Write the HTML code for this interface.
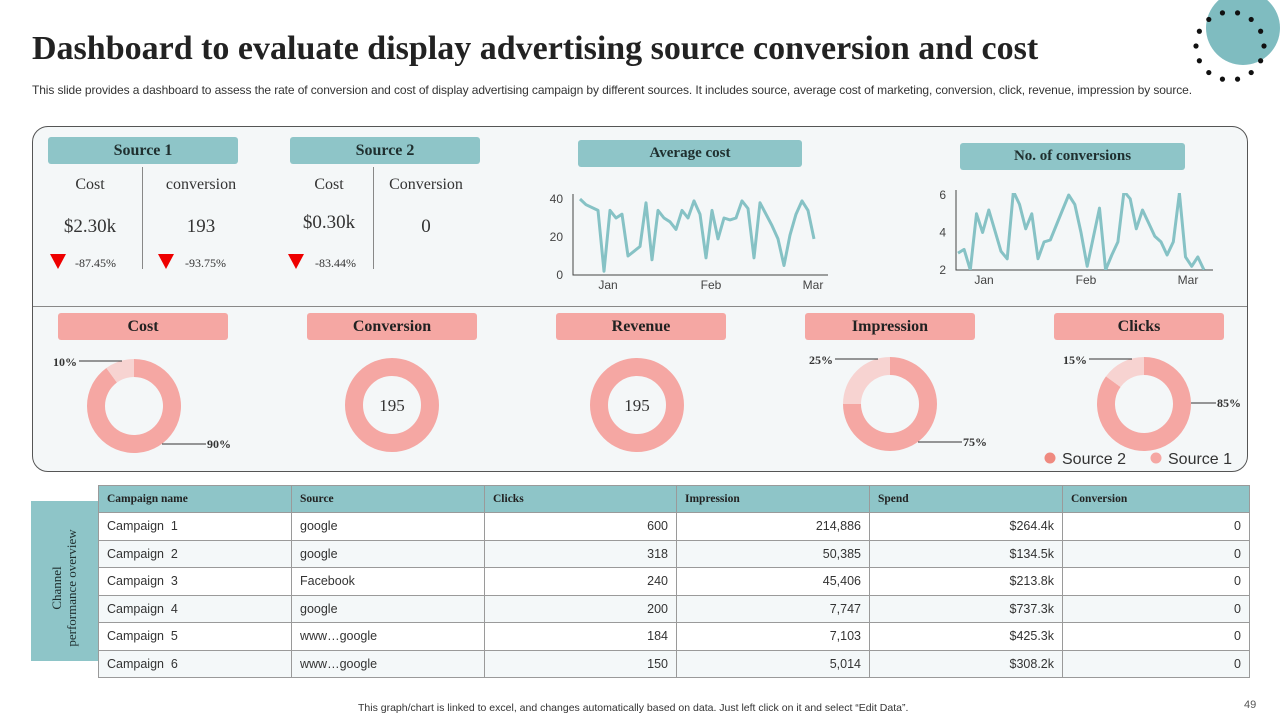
<!DOCTYPE html>
<html><head><meta charset="utf-8"><style>
body{margin:0;width:1280px;height:720px;background:#fff;position:relative;overflow:hidden;font-family:"Liberation Sans",sans-serif;}
.abs{position:absolute}
.serif{font-family:"Liberation Serif",serif}
.tb{position:absolute;background:#8ec5c8;border-radius:3px;text-align:center;font-family:"Liberation Serif",serif;font-weight:bold;font-size:16px;color:#1f2f2f}
.pk{position:absolute;background:#f5a7a3;border-radius:3px;text-align:center;font-family:"Liberation Serif",serif;font-weight:bold;font-size:16px;color:#222;width:170px;height:27px;line-height:27px;top:313px}
table{position:absolute;left:98px;top:485px;border-collapse:collapse;width:1152px;font-size:12.5px;color:#333}
td,th{border:1.5px solid #9a9a9a;height:26.5px;padding:0 8px;}
th{background:#8ec5c8;font-family:"Liberation Serif",serif;font-size:11.5px;text-align:left;color:#222;height:26px}
td.n{text-align:right}
tr.o td{background:#f4f8f9}
</style></head><body>
<svg class="abs" style="left:0;top:0" width="1280" height="100">
<circle cx="1243" cy="28" r="37" fill="#7fbcc0"/>
<g fill="#111" id="dots"></g>
</svg>
<div class="abs serif" style="left:32px;top:30px;font-size:34px;font-weight:bold;color:#222;white-space:nowrap">Dashboard to evaluate display advertising source conversion and cost</div>
<div class="abs" style="left:32px;top:83px;font-size:12px;color:#333;white-space:nowrap;letter-spacing:-0.1px">This slide provides a dashboard to assess the rate of conversion and cost of display advertising campaign by different sources. It includes source, average cost of marketing, conversion, click, revenue, impression by source.</div>
<div class="abs" style="left:32px;top:126px;width:1214px;height:344px;border:1.3px solid #555;border-radius:16px;background:#f4f7f8"></div>
<div class="abs" style="left:33px;top:306px;width:1214px;height:1px;background:#888"></div>

<div class="tb" style="left:48px;top:137px;width:190px;height:27px;line-height:27px">Source 1</div>
<div class="tb" style="left:290px;top:137px;width:190px;height:27px;line-height:27px">Source 2</div>
<div class="abs" style="left:142px;top:167px;width:1px;height:102px;background:#888"></div>
<div class="abs" style="left:373px;top:167px;width:1px;height:102px;background:#888"></div>
<div class="abs serif" style="left:60px;top:176px;width:60px;text-align:center;font-size:16px;color:#333">Cost</div>
<div class="abs serif" style="left:150px;top:176px;width:102px;text-align:center;font-size:16px;color:#333">conversion</div>
<div class="abs serif" style="left:299px;top:176px;width:60px;text-align:center;font-size:16px;color:#333">Cost</div>
<div class="abs serif" style="left:373px;top:176px;width:106px;text-align:center;font-size:16px;color:#333">Conversion</div>
<div class="abs serif" style="left:50px;top:216px;width:80px;text-align:center;font-size:19px;color:#333">$2.30k</div>
<div class="abs serif" style="left:170px;top:216px;width:62px;text-align:center;font-size:19px;color:#333">193</div>
<div class="abs serif" style="left:289px;top:212px;width:80px;text-align:center;font-size:19px;color:#333">$0.30k</div>
<div class="abs serif" style="left:400px;top:216px;width:52px;text-align:center;font-size:19px;color:#333">0</div>
<svg class="abs" style="left:0;top:250px" width="400" height="24">
<polygon points="50,4 66,4 58,19" fill="#e00"/><polygon points="158,4 174,4 166,19" fill="#e00"/><polygon points="288,4 304,4 296,19" fill="#e00"/>
</svg>
<div class="abs serif" style="left:75px;top:256px;font-size:12px;color:#333">-87.45%</div>
<div class="abs serif" style="left:185px;top:256px;font-size:12px;color:#333">-93.75%</div>
<div class="abs serif" style="left:315px;top:256px;font-size:12px;color:#333">-83.44%</div>

<div class="tb" style="left:578px;top:140px;width:224px;height:27px;line-height:27px;font-size:15px">Average cost</div>
<div class="tb" style="left:960px;top:143px;width:225px;height:27px;line-height:27px;font-size:15px">No. of conversions</div>
<svg id="lc" class="abs" style="left:0;top:0" width="1280" height="310"></svg>

<div class="pk" style="left:58px">Cost</div>
<div class="pk" style="left:307px">Conversion</div>
<div class="pk" style="left:556px">Revenue</div>
<div class="pk" style="left:805px">Impression</div>
<div class="pk" style="left:1054px">Clicks</div>
<svg id="dn" class="abs" style="left:0;top:0" width="1280" height="480"></svg>
<svg class="abs" style="left:1040px;top:448px" width="200" height="20">
<circle cx="10" cy="10" r="5.5" fill="#ef8a80"/><text x="22" y="16" font-size="16" fill="#333" font-family="Liberation Sans">Source 2</text>
<circle cx="116" cy="10" r="5.5" fill="#f5a7a3"/><text x="128" y="16" font-size="16" fill="#333" font-family="Liberation Sans">Source 1</text>
</svg>

<div class="abs" style="left:31px;top:501px;width:67px;height:160px;background:#8ec5c8"></div>
<div class="abs serif" style="left:-16px;top:573px;width:160px;text-align:center;transform:rotate(-90deg);font-size:13px;color:#1f2f2f;line-height:15px">Channel<br>performance overview</div>
<table>
<tr><th style="width:176px">Campaign name</th><th style="width:176px">Source</th><th style="width:175px">Clicks</th><th style="width:176px">Impression</th><th style="width:176px">Spend</th><th>Conversion</th></tr>
<tr><td>Campaign&nbsp; 1</td><td>google</td><td class="n">600</td><td class="n">214,886</td><td class="n">$264.4k</td><td class="n">0</td></tr>
<tr class="o"><td>Campaign&nbsp; 2</td><td>google</td><td class="n">318</td><td class="n">50,385</td><td class="n">$134.5k</td><td class="n">0</td></tr>
<tr><td>Campaign&nbsp; 3</td><td>Facebook</td><td class="n">240</td><td class="n">45,406</td><td class="n">$213.8k</td><td class="n">0</td></tr>
<tr class="o"><td>Campaign&nbsp; 4</td><td>google</td><td class="n">200</td><td class="n">7,747</td><td class="n">$737.3k</td><td class="n">0</td></tr>
<tr><td>Campaign&nbsp; 5</td><td>www…google</td><td class="n">184</td><td class="n">7,103</td><td class="n">$425.3k</td><td class="n">0</td></tr>
<tr class="o"><td>Campaign&nbsp; 6</td><td>www…google</td><td class="n">150</td><td class="n">5,014</td><td class="n">$308.2k</td><td class="n">0</td></tr>
</table>
<div class="abs" style="left:358px;top:702px;font-size:10.5px;color:#333;white-space:nowrap">This graph/chart is linked to excel, and changes automatically based on data. Just left click on it and select “Edit Data”.</div>
<div class="abs" style="left:1244px;top:699px;font-size:11px;color:#555">49</div>
<script>
const avgDays=[0,1,3,4,5,6,7,8,10,11,12,13,14,15,16,17,18,19,20,21,22,23,24,25,26,27,28,29,30,32,33,34,35,36,37,38,39];
const avgCost=[40,37,34,2,34,30,32,10,15,38,8,34,30,28,24,34,30,39,32,9,34,19,30,29,30,39,35,9,38,26,19,5,21,32,39,34,19];
const avgTicks=[0,20,40];
const convDays=[0,1,2,3,4,5,7,8,9,10,11,12,13,14,15,16,17,18,19,20,21,23,24,25,26,27,28,29,30,31,32,33,34,35,36,37,38,39,40];
const conversions=[2.9,3.1,2,5,4,5.2,3,2.6,6.2,5.5,4.2,5,2.6,3.5,3.6,4.4,5.2,6,5.5,4,2.2,5.3,2,2.8,3.5,6.2,5.8,4.2,5.2,4.5,3.8,3.5,2.8,3.5,6.1,2.7,2.2,2.7,2];
const convTicks=[2,4,6];
const monthLabels=["Jan","Feb","Mar"];
const NS="http://www.w3.org/2000/svg";
function mk(p,t,a){const e=document.createElementNS(NS,t);for(const k in a)e.setAttribute(k,a[k]);p.appendChild(e);return e;}
const lc=document.getElementById('lc');
function lineChart(o){
  const xs=d=>o.x0+(d-o.d0)*(o.x1-o.x0)/(o.d1-o.d0);
  const ys=v=>o.yb-(v-o.vmin)*(o.yb-o.yt)/(o.vmax-o.vmin);
  const ax=mk(lc,'path',{d:`M${o.ax} ${o.yt-5}V${o.yb}H${o.axEnd}`,stroke:'#444',fill:'none','stroke-width':1});
  
  o.ticks.forEach(t=>{const e=mk(lc,'text',{x:o.ax-10,y:ys(t)+4,'text-anchor':'end','font-size':12,fill:'#444'});e.textContent=t;
    });
  o.months.forEach((m,i)=>{const e=mk(lc,'text',{x:o.mx[i],y:o.yb+14,'text-anchor':'middle','font-size':12,fill:'#444'});e.textContent=m;
    });
  const clip=mk(lc,'clipPath',{id:o.id});mk(clip,'rect',{x:o.ax,y:o.yt-2,width:o.axEnd-o.ax,height:o.yb-o.yt+2});
  const p=mk(lc,'path',{d:o.vals.map((v,i)=>(i?'L':'M')+xs(o.days[i]).toFixed(1)+' '+ys(v).toFixed(1)).join(''),fill:'none',stroke:'#86c2c5','stroke-width':3,'stroke-linejoin':'round','clip-path':`url(#${o.id})`});
  
}
lineChart({id:'c1',days:avgDays,vals:avgCost,d0:0,d1:39,x0:580,x1:814,vmin:0,vmax:40,yb:275,yt:199,ax:573,axEnd:828,ticks:avgTicks,months:monthLabels,mx:[608,711,813]});
lineChart({id:'c2',days:convDays,vals:conversions,d0:0,d1:40,x0:958,x1:1204,vmin:2,vmax:6,yb:270,yt:195,ax:956,axEnd:1213,ticks:convTicks,months:monthLabels,mx:[984,1086,1188]});
const dots=document.getElementById('dots');
for(let i=0;i<14;i++){const a=i/14*Math.PI*2;mk(dots,'circle',{cx:1230+34*Math.cos(a),cy:46+34*Math.sin(a),r:2.6});}
const donutCenters=[[134,406],[392,405],[637,405],[890,404],[1144,404]];
const donutMain=[90,100,100,75,85];
const donutRest=[10,0,0,25,15];
const donutCenterText=["","195","195","",""];
const dn=document.getElementById('dn');
function arc(cx,cy,R,r,a0,a1){
  const p=(rad,a)=>[cx+rad*Math.sin(a),cy-rad*Math.cos(a)];
  const L=a1-a0>Math.PI?1:0;const [x1,y1]=p(R,a0),[x2,y2]=p(R,a1),[x3,y3]=p(r,a1),[x4,y4]=p(r,a0);
  return `M${x1} ${y1}A${R} ${R} 0 ${L} 1 ${x2} ${y2}L${x3} ${y3}A${r} ${r} 0 ${L} 0 ${x4} ${y4}Z`;
}
donutCenters.forEach((c,i)=>{
  const tot=donutMain[i]+donutRest[i];const am=donutMain[i]/tot*Math.PI*2;
  let s1;
  if(donutRest[i]>0){
    s1=mk(dn,'path',{d:arc(c[0],c[1],47,29,0,am),fill:'#f5a7a3'});
  }else{
    s1=mk(dn,'circle',{cx:c[0],cy:c[1],r:38,fill:'none',stroke:'#f5a7a3','stroke-width':18});
  }
  
  if(donutRest[i]>0){
    const s2=mk(dn,'path',{d:arc(c[0],c[1],47,29,am,Math.PI*2),fill:'#f7d3d1'});
    
    mk(dn,'path',{d:`M${c[0]-12} ${c[1]-45}H${c[0]-55}`,stroke:'#333','stroke-width':1});
    const t=mk(dn,'text',{x:c[0]-57,y:c[1]-40,'text-anchor':'end','font-size':12,'font-weight':'bold','font-family':'Liberation Serif',fill:'#333'});t.textContent=donutRest[i]+'%';
    
    let mx,my;if(i===4){mx=c[0]+47;my=c[1]-1;}else{mx=c[0]+28;my=c[1]+38;}
    mk(dn,'path',{d:`M${mx} ${my}H${c[0]+72}`,stroke:'#333','stroke-width':1});
    const t2=mk(dn,'text',{x:c[0]+73,y:my+4,'font-size':12,'font-weight':'bold','font-family':'Liberation Serif',fill:'#333'});t2.textContent=donutMain[i]+'%';
    
  }
  if(donutCenterText[i]){const t=mk(dn,'text',{x:c[0],y:c[1]+6,'text-anchor':'middle','font-size':17,'font-family':'Liberation Serif',fill:'#333'});t.textContent=donutCenterText[i];
    }
});
</script>
</body></html>
